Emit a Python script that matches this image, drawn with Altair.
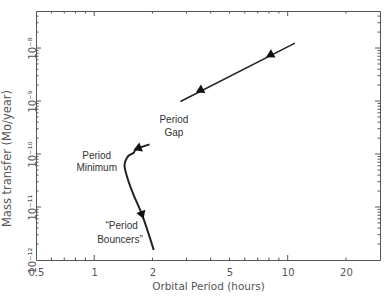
import altair as alt
import pandas as pd

# ---- data ----
upper_period = [2.79, 10.9]
upper_mdot = [9.8e-10, 1.24e-8]

lower_period = [1.93, 1.63, 1.60, 1.50, 1.45, 1.434, 1.45, 1.50, 1.59, 1.77, 2.03]
lower_mdot = [1.52e-10, 1.19e-10, 1.06e-10, 9.18e-11, 7.4e-11, 5.97e-11,
              4.81e-11, 3.13e-11, 1.77e-11, 7.0e-12, 1.54e-12]

arrow_period = [8.06, 3.50, 1.67, 1.77]
arrow_mdot = [7.3e-9, 1.57e-9, 1.27e-10, 7.0e-12]
arrow_angle = [242.6, 242.6, 248.0, 160.7]

text_lines = ["Period", "Gap", "Period", "Minimum", "\u201cPeriod", "Bouncers\u201d"]
text_period = [2.58, 2.58, 1.03, 1.03, 1.386, 1.358]
text_mdot = [4.46e-10, 2.54e-10, 9.17e-11, 5.53e-11, 4.32e-12, 2.43e-12]

x_label_values = [0.5, 1, 2, 5, 10, 20]
x_major_ticks = [1, 10]
x_minor_ticks = [0.6, 0.7, 0.8, 0.9, 2, 3, 4, 5, 6, 7, 8, 9, 20]
y_label_values = [1e-12, 1e-11, 1e-10, 1e-9, 1e-8]
y_label_texts = ["10\u207b\u00b9\u00b2", "10\u207b\u00b9\u00b9", "10\u207b\u00b9\u2070",
                 "10\u207b\u2079", "10\u207b\u2078"]
y_major_ticks = [1e-11, 1e-10, 1e-9, 1e-8]
y_minor_ticks = [m * d for d in [1e-12, 1e-11, 1e-10, 1e-9] for m in range(2, 10)] + \
                [2e-8, 3e-8, 4e-8]

X_TITLE = "Orbital Period (hours)"
Y_TITLE = "Mass transfer (Mo/year)"

W, H = 344, 249
AX = "#555555"
FONT = "DejaVu Sans"
MAJ, MIN = 5, 2.5

upper = pd.DataFrame({"period": upper_period, "mdot": upper_mdot})
lower = pd.DataFrame({"period": lower_period, "mdot": lower_mdot,
                      "idx": list(range(len(lower_period)))})
arrows = pd.DataFrame({"period": arrow_period, "mdot": arrow_mdot, "angle": arrow_angle})
texts = pd.DataFrame({"period": text_period, "mdot": text_mdot, "label": text_lines})
xmaj = pd.DataFrame({"period": x_major_ticks})
xmin = pd.DataFrame({"period": x_minor_ticks})
ymaj = pd.DataFrame({"mdot": y_major_ticks})
ymin = pd.DataFrame({"mdot": y_minor_ticks})

xs = alt.Scale(type="log", domain=[0.5, 30], nice=False)
ys = alt.Scale(type="log", domain=[1e-12, 5e-8], nice=False)

ylab_expr = ""
for v, t in zip(y_label_values, y_label_texts):
    ylab_expr += f"datum.value < {v * 2} ? '{t}' : "
ylab_expr += "''"

x_label_axis = alt.Axis(values=x_label_values, ticks=False, domain=False,
                        grid=False, labelFlush=False, labelOverlap=False, labelPadding=7,
                        labelFont=FONT, labelFontSize=10, labelColor=AX,
                        titleFont=FONT, titleFontSize=10.5,
                        titleColor=AX, titleFontWeight="normal", titlePadding=4)
y_label_axis = alt.Axis(values=y_label_values, labelExpr=ylab_expr, ticks=False,
                        domain=False, grid=False, labelFlush=False, labelOverlap=False,
                        labelAngle=270, labelAlign="center", labelBaseline="alphabetic",
                        labelPadding=1, labelFont=FONT, labelFontSize=10, labelColor=AX,
                        titleFont=FONT, titleFontSize=11.5,
                        titleColor=AX, titleFontWeight="normal", titleAngle=270,
                        titleAlign="center", titleBaseline="middle", titleX=-29, titleY=147)


def xenc():
    return alt.X("period:Q", scale=xs, axis=x_label_axis, title=X_TITLE)


def yenc():
    return alt.Y("mdot:Q", scale=ys, axis=y_label_axis, title=Y_TITLE)


l_upper = alt.Chart(upper).mark_line(color="#222222", strokeWidth=1.5).encode(
    x=xenc(), y=yenc(),
)
l_lower = alt.Chart(lower).mark_line(color="#222222", strokeWidth=2,
                                     interpolate="catmull-rom").encode(
    x=xenc(), y=yenc(), order="idx:O",
)
l_arrows = alt.Chart(arrows).mark_point(shape="triangle-up", filled=True, opacity=1,
                                        color="#111111", size=90).encode(
    x=xenc(), y=yenc(), angle=alt.Angle("angle:Q", scale=None),
)
l_text = alt.Chart(texts).mark_text(font="Liberation Sans", fontSize=10, color="#333333",
                                    align="center", baseline="middle").encode(
    x=xenc(), y=yenc(), text="label:N",
)

# inward-pointing ticks on all four sides of the frame
tick_layers = []
for df, ln in [(xmaj, MAJ), (xmin, MIN)]:
    tick_layers.append(alt.Chart(df).mark_rule(color=AX, strokeWidth=1).encode(
        x=xenc(), y=alt.value(H), y2=alt.value(H - ln)))
    tick_layers.append(alt.Chart(df).mark_rule(color=AX, strokeWidth=1).encode(
        x=xenc(), y=alt.value(0), y2=alt.value(ln)))
for df, ln in [(ymaj, MAJ), (ymin, MIN)]:
    tick_layers.append(alt.Chart(df).mark_rule(color=AX, strokeWidth=1).encode(
        y=yenc(), x=alt.value(0), x2=alt.value(ln)))
    tick_layers.append(alt.Chart(df).mark_rule(color=AX, strokeWidth=1).encode(
        y=yenc(), x=alt.value(W), x2=alt.value(W - ln)))

chart = alt.layer(l_upper, l_lower, l_arrows, l_text, *tick_layers).properties(
    width=W, height=H,
    autosize=alt.AutoSizeParams(type="none"),
    padding={"left": 36, "top": 11, "right": 7, "bottom": 36},
    background="white",
).configure_view(stroke=AX, strokeWidth=1)

chart.save("out.html", embed_options={"renderer": "svg", "actions": False})
